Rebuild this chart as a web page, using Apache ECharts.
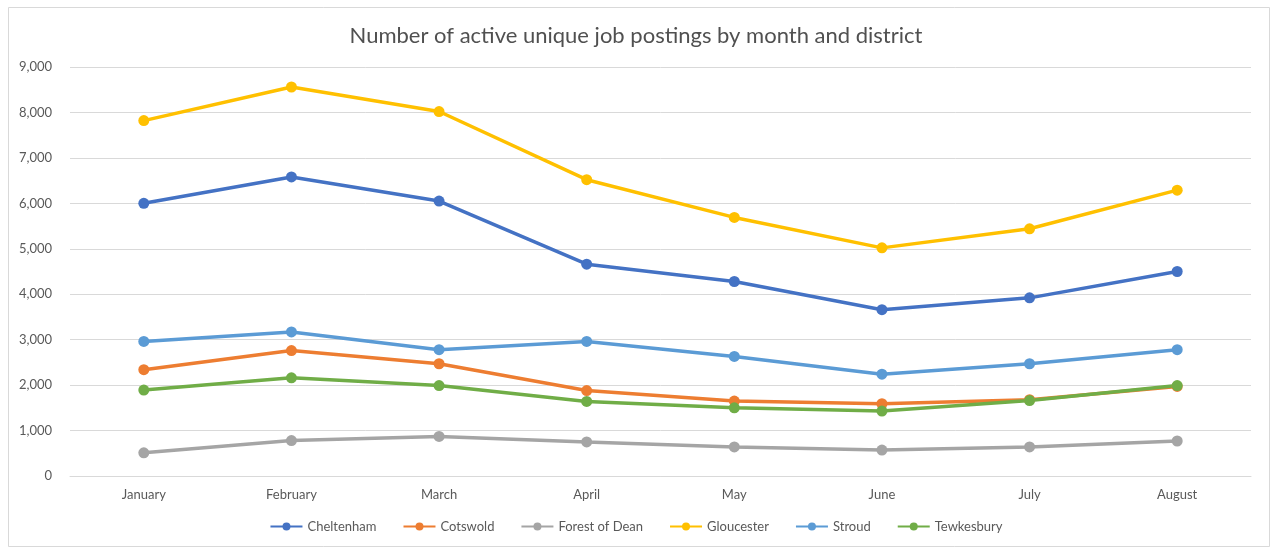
<!DOCTYPE html>
<html>
<head>
<meta charset="utf-8">
<script src="https://cdn.jsdelivr.net/npm/echarts@6/dist/echarts.min.js"></script>
<style>
html,body{margin:0;padding:0;background:#fff;}
#chart{width:1272px;height:548px;}
</style>
</head>
<body>
<div id="chart"></div>
<script>
const months = ["January","February","March","April","May","June","July","August"];
const cheltenham = [6000, 6580, 6050, 4660, 4280, 3660, 3920, 4500];
const cotswold = [2340, 2760, 2470, 1880, 1650, 1590, 1680, 1970];
const forestOfDean = [510, 780, 870, 750, 640, 570, 640, 770];
const gloucester = [7820, 8560, 8020, 6520, 5690, 5020, 5440, 6290];
const stroud = [2960, 3170, 2780, 2960, 2630, 2240, 2470, 2780];
const tewkesbury = [1890, 2160, 1990, 1640, 1500, 1430, 1660, 1990];
const yTicks = {min: 0, max: 9000, interval: 1000};

const seriesDefs = [
  ["Cheltenham", cheltenham, "#4472C4"],
  ["Cotswold", cotswold, "#ED7D31"],
  ["Forest of Dean", forestOfDean, "#A5A5A5"],
  ["Gloucester", gloucester, "#FFC000"],
  ["Stroud", stroud, "#5B9BD5"],
  ["Tewkesbury", tewkesbury, "#70AD47"]
];
const font = "Lato, 'Open Sans', sans-serif";
const chart = echarts.init(document.getElementById('chart'), null, {renderer: 'canvas'});
chart.setOption({
  animation: false,
  backgroundColor: '#fff',
  textStyle: {fontFamily: font},
  graphic: [{
    type: 'rect', left: 6, top: 5, z: -1,
    shape: {width: 1261, height: 539},
    style: {fill: 'none', stroke: '#d9d9d9', lineWidth: 1}
  }],
  title: {
    text: 'Number of active unique job postings by month and district',
    left: 'center', top: 20,
    textStyle: {fontFamily: font, fontSize: 22, fontWeight: 'normal', color: '#505050'}
  },
  legend: {
    bottom: 10, left: 'center',
    itemWidth: 32, itemHeight: 10, itemGap: 26,
    textStyle: {fontFamily: font, fontSize: 13, color: '#595959'},
    data: seriesDefs.map(s => s[0])
  },
  grid: {left: 70, right: 21, top: 67, bottom: 72, containLabel: false},
  xAxis: {
    type: 'category', data: months, boundaryGap: true,
    axisLine: {show: true, lineStyle: {color: '#d9d9d9'}},
    axisTick: {show: false},
    axisLabel: {color: '#595959', fontSize: 13, fontFamily: font, margin: 12}
  },
  yAxis: {
    type: 'value', min: yTicks.min, max: yTicks.max, interval: yTicks.interval,
    axisLine: {show: false}, axisTick: {show: false},
    splitLine: {lineStyle: {color: '#d9d9d9', width: 1}},
    axisLabel: {color: '#595959', fontSize: 13, fontFamily: font, margin: 18,
      formatter: v => v.toLocaleString('en-US')}
  },
  series: seriesDefs.map(([name, data, color]) => ({
    name, type: 'line', data,
    symbol: 'circle', symbolSize: 11,
    lineStyle: {width: 3.5, color},
    itemStyle: {color},
    color
  }))
});
</script>
</body>
</html>
